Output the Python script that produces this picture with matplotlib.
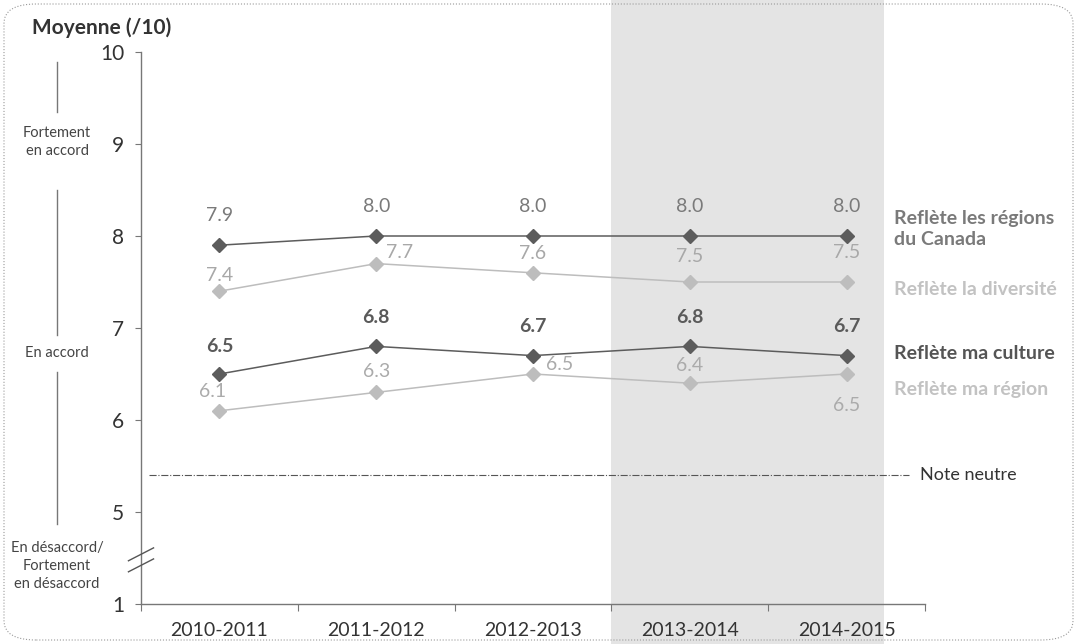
import numpy as np
import matplotlib.pyplot as plt
from matplotlib.patches import Rectangle, FancyBboxPatch
from matplotlib.transforms import blended_transform_factory

plt.rcParams["font.family"] = ["Lato", "DejaVu Sans"]

years = ["2010-2011", "2011-2012", "2012-2013", "2013-2014", "2014-2015"]
canada = [7.9, 8.0, 8.0, 8.0, 8.0]
diversite = [7.4, 7.7, 7.6, 7.5, 7.5]
culture = [6.5, 6.8, 6.7, 6.8, 6.7]
region = [6.1, 6.3, 6.5, 6.4, 6.5]
neutral = 5.4
ytick_vals = [4, 5, 6, 7, 8, 9, 10]
ytick_labels = ["1", "5", "6", "7", "8", "9", "10"]

DARK = "#5c5c5c"
LIGHT = "#bdbdbd"

fig = plt.figure(figsize=(10.77, 6.44), dpi=100)
ax = fig.add_axes([141 / 1077, 1 - 604 / 644, 784 / 1077, 552 / 644])
ax.patch.set_alpha(0)
x = np.arange(len(years))

# shaded band for the last two years (spans the whole figure height)
band = Rectangle((2.5, 0), 1.74, 1, transform=blended_transform_factory(ax.transData, fig.transFigure),
                 facecolor="#e4e4e4", edgecolor="none", zorder=0, clip_on=False)
ax.add_patch(band)

series = [
    (canada, DARK, "#7a7a7a", "normal"),
    (diversite, LIGHT, "#a8a8a8", "normal"),
    (culture, DARK, "#5a5a5a", "bold"),
    (region, LIGHT, "#ababab", "normal"),
]
for vals, col, _, _ in series:
    ax.plot(x, vals, color=col, lw=1.1, marker="D", ms=7, mfc=col, mec=col, zorder=3)

# data labels: offsets in points
offsets = {
    0: [(0, 21.5)] * 5,
    1: [(0, 11.5), (16.5, 8), (0, 13.7), (0, 18), (0, 21)],
    2: [(0, 19.5), (0, 21), (0, 21), (0, 21), (0, 21)],
    3: [(-5, 13.7), (0, 15), (19.5, 6.5), (0, 13), (0, -23)],
}
for i, (vals, _, tcol, w) in enumerate(series):
    for j, v in enumerate(vals):
        dx, dy = offsets[i][j]
        ax.annotate(f"{v:.1f}", (j, v), xytext=(dx, dy), textcoords="offset points",
                    ha="center", va="center", fontsize=14, color=tcol, fontweight=w)

# neutral line
ax.plot([-0.45, 4.4], [neutral, neutral], color="#555555", lw=0.8, ls="-.", zorder=2)
ax.text(4.47, neutral, "Note neutre", fontsize=13, color="#333333", va="center", ha="left",
        clip_on=False)

# series names on the right
lx = 4.3
ax.text(lx, 8.08, "Reflète les régions\ndu Canada", fontsize=14, color="#7a7a7a",
        fontweight="bold", va="center", ha="left", linespacing=1.3, clip_on=False)
ax.text(lx, 7.42, "Reflète la diversité", fontsize=14, color="#c2c2c2",
        fontweight="bold", va="center", ha="left", clip_on=False)
ax.text(lx, 6.72, "Reflète ma culture", fontsize=14, color="#555555",
        fontweight="bold", va="center", ha="left", clip_on=False)
ax.text(lx, 6.33, "Reflète ma région", fontsize=14, color="#c2c2c2",
        fontweight="bold", va="center", ha="left", clip_on=False)

ax.set_xlim(-0.5, 4.5)
ax.set_ylim(4, 10)
ax.set_xticks(np.arange(-0.5, 5, 1))
ax.set_xticklabels([])
ax.set_xticks(x, minor=True)
ax.set_xticklabels(years, minor=True, fontsize=14, color="#333333")
ax.tick_params(axis="x", which="minor", length=0, pad=13)
ax.tick_params(axis="x", which="major", length=5, color="#777777", direction="out")
ax.set_yticks(ytick_vals)
ax.set_yticklabels(ytick_labels, fontsize=15, color="#333333")
ax.tick_params(axis="y", length=4, color="#777777", pad=8)
for s in ["top", "right"]:
    ax.spines[s].set_visible(False)
for s in ["left", "bottom"]:
    ax.spines[s].set_color("#777777")
    ax.spines[s].set_linewidth(1.0)

# axis break marks
for yb in (4.42, 4.54):
    ax.plot([-0.58, -0.42], [yb - 0.07, yb + 0.07], color="#555555", lw=1.0, clip_on=False, zorder=5)

# title and agreement scale at left
fig.text(32 / 1077, 1 - 28 / 644, "Moyenne (/10)", fontsize=15, fontweight="bold",
         color="#333333", va="center", ha="left")
scale_x = 57 / 1077
fig.text(scale_x, 1 - 142 / 644, "Fortement\nen accord", fontsize=10.5, color="#444444",
         ha="center", va="center", linespacing=1.4)
fig.text(scale_x, 1 - 353 / 644, "En accord", fontsize=10.5, color="#444444",
         ha="center", va="center")
fig.text(scale_x, 1 - 566 / 644, "En désaccord/\nFortement\nen désaccord", fontsize=10.5,
         color="#444444", ha="center", va="center", linespacing=1.4)
for y0, y1 in [(62, 112), (190, 335), (372, 524)]:
    fig.add_artist(plt.Line2D([scale_x, scale_x], [1 - y0 / 644, 1 - y1 / 644],
                              color="#777777", lw=1.0))

# rounded frame
frame = FancyBboxPatch((4 / 1077, 4 / 644), 1 - 8 / 1077, 1 - 8 / 644,
                       boxstyle="round,pad=0,rounding_size=0.03", transform=fig.transFigure,
                       facecolor="none", edgecolor="#999999", lw=0.8, ls=":")
fig.patches.append(frame)

fig.savefig("out.png", dpi=100)
